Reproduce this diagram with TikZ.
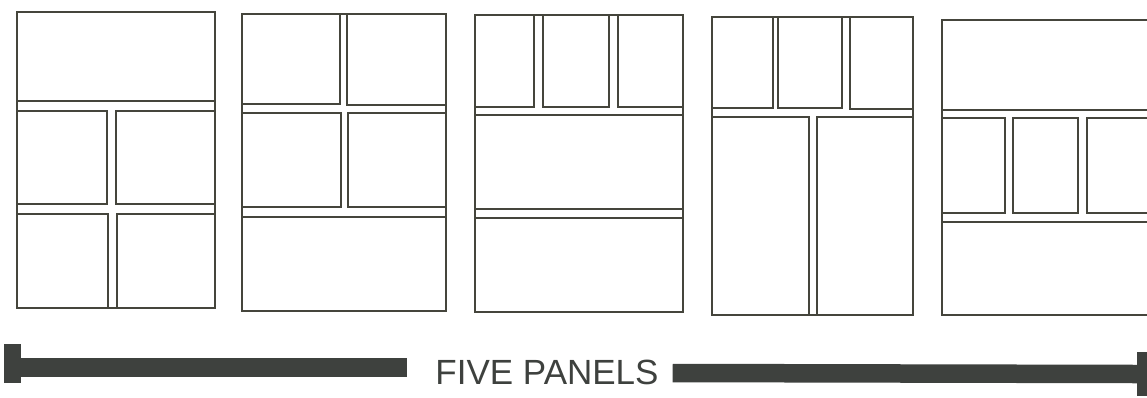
\documentclass[tikz,border=0pt]{standalone}
\usepackage{fontspec}
\setmainfont{Liberation Sans}
\usetikzlibrary{positioning}
\definecolor{ink}{HTML}{45453C}
\definecolor{barcol}{HTML}{3E413E}
\tikzset{pane/.style={draw=ink,line width=1.5pt},barline/.style={draw=barcol,line width=18.5pt},capbox/.style={fill=barcol,draw=none,inner sep=0pt}}

\begin{document}
\begin{tikzpicture}[x=1pt,y=-1pt]
\useasboundingbox (0,0)rectangle(1147,397);\clip (0,0)rectangle(1147,397);
% page 1
\foreach \a/\b/\c/\d in {17/12/215/308,17/12/215/101,17/111/107/204,116/111/215/204,17/214/108/308,117/214/215/308}
  \draw[pane](\a,\b)rectangle(\c,\d);
% page 2
\foreach \a/\b/\c/\d in {242/14/446/311,242/14/340/104,347/14/446/105,242/113/341/207,348/113/446/207,242/217/446/311}
  \draw[pane](\a,\b)rectangle(\c,\d);
% page 3
\foreach \a/\b/\c/\d in {475/15/683/312,475/15/534/107,543/15/609/107,618/15/683/107,475/115/683/209,475/218/683/312}
  \draw[pane](\a,\b)rectangle(\c,\d);
% page 4
\foreach \a/\b/\c/\d in {712/17/913/315,712/17/773/108,778/17/842/108,850/17/913/109,712/117/809/315,817/117/913/315}
  \draw[pane](\a,\b)rectangle(\c,\d);
% page 5
\foreach \a/\b/\c/\d in {942/20/1160/315,942/20/1160/110,942/118/1005/213,1013/118/1078/213,1087/118/1160/213,942/222/1160/315}
  \draw[pane](\a,\b)rectangle(\c,\d);
% scale bar
\node[text=barcol,inner sep=0pt,font=\fontsize{35}{35}\selectfont](lbl)at(547,372.5){FIVE PANELS};
\node[capbox,minimum width=17pt,minimum height=39pt](lcap)at(12.5,363.5){};
\node[capbox,minimum width=14pt,minimum height=44pt](rcap)at(1144,374){};
\draw[barline]([yshift=-4pt]lcap.east)--([xshift=-28pt,yshift=5pt]lbl.west);
\draw[barline]([xshift=14pt,yshift=-0.5pt]lbl.east)--(rcap.west);
\end{tikzpicture}
\end{document}
